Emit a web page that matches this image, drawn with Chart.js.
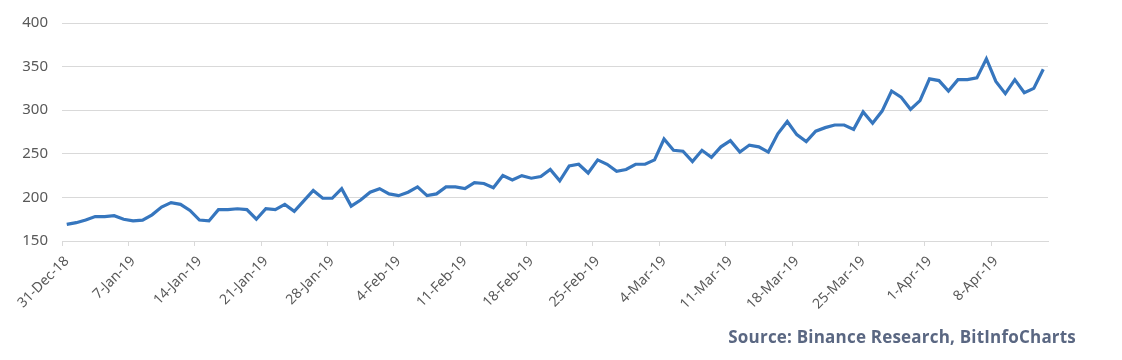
<!DOCTYPE html>
<html>
<head>
<meta charset="utf-8">
<script src="https://cdn.jsdelivr.net/npm/chart.js@4/dist/chart.umd.min.js"></script>
<style>
    html, body { margin: 0; padding: 0; background: #fff; }
    #wrap { position: relative; width: 1122px; height: 360px; }
    #source {
        position: absolute;
        right: 46px;
        top: 325px;
        font-family: "Open Sans", sans-serif;
        font-weight: bold;
        font-size: 17px;
        letter-spacing: 0.2px;
        color: #5a6782;
    }
</style>
</head>
<body>
<div id="wrap">
    <canvas id="chart" width="1122" height="360"></canvas>
    <div id="source">Source: Binance Research, BitInfoCharts</div>
</div>
<script>
const ctx = document.getElementById("chart");

const startDate = [2018, 11, 31]; // 31-Dec-18
const monthNames = ["Jan", "Feb", "Mar", "Apr", "May", "Jun", "Jul", "Aug", "Sep", "Oct", "Nov", "Dec"];

const values = [
    169, 171, 174, 178, 178, 179, 175, 173, 174, 180,
    189, 194, 192, 185, 174, 173, 186, 186, 187, 186,
    175, 187, 186, 192, 184, 196, 208, 199, 199, 210,
    190, 197, 206, 210, 204, 202, 206, 212, 202, 204,
    212, 212, 210, 217, 216, 211, 225, 220, 225, 222,
    224, 232, 219, 236, 238, 228, 243, 238, 230, 232,
    238, 238, 243, 267, 254, 253, 241, 254, 246, 258,
    265, 252, 260, 258, 252, 273, 287, 272, 264, 276,
    280, 283, 283, 278, 298, 285, 299, 322, 315, 301,
    311, 336, 334, 322, 335, 335, 337, 359, 333, 319,
    335, 320, 325, 347,
];

const yTicks = [150, 200, 250, 300, 350, 400];

// one label per day, dd-Mon-yy
const labels = values.map((v, i) => {
    const d = new Date(startDate[0], startDate[1], startDate[2] + i);
    return d.getDate() + "-" + monthNames[d.getMonth()] + "-" + String(d.getFullYear()).slice(2);
});

Chart.defaults.font.family = "'Noto Sans', sans-serif";
Chart.defaults.color = "#595959";

const data = {
    labels: labels,
    datasets: [
        {
            data: values,
            borderColor: "#3676be",
            borderWidth: 3.2,
            pointRadius: 0,
            tension: 0,
            fill: false,
        },
    ],
};

const config = {
    type: "line",
    data: data,
    options: {
        responsive: false,
        animation: false,
        layout: {
            padding: { left: 0, right: 74, top: 23, bottom: 0 },
        },
        scales: {
            x: {
                offset: true,
                grid: {
                    offset: true,
                    drawOnChartArea: false,
                    tickLength: 5,
                    color: (c) => (c.index % 7 === 0 ? "#d9d9d9" : "transparent"),
                },
                border: { color: "#d9d9d9" },
                ticks: {
                    autoSkip: false,
                    minRotation: 45,
                    maxRotation: 45,
                    padding: 7,
                    font: { size: 14 },
                    callback: (val, i) => (i % 7 === 0 ? labels[i] : ""),
                },
                afterFit: (scale) => {
                    scale.height = 119;
                },
            },
            y: {
                min: yTicks[0],
                max: yTicks[yTicks.length - 1],
                grid: { color: "#d9d9d9", drawTicks: false },
                border: { display: false },
                ticks: {
                    stepSize: 50,
                    padding: 14,
                    font: { size: 15 },
                },
                afterFit: (scale) => {
                    scale.width = 62;
                },
            },
        },
        plugins: {
            legend: { display: false },
            tooltip: { enabled: false },
        },
    },
};

const chart = new Chart(ctx, config);
</script>
</body>
</html>
